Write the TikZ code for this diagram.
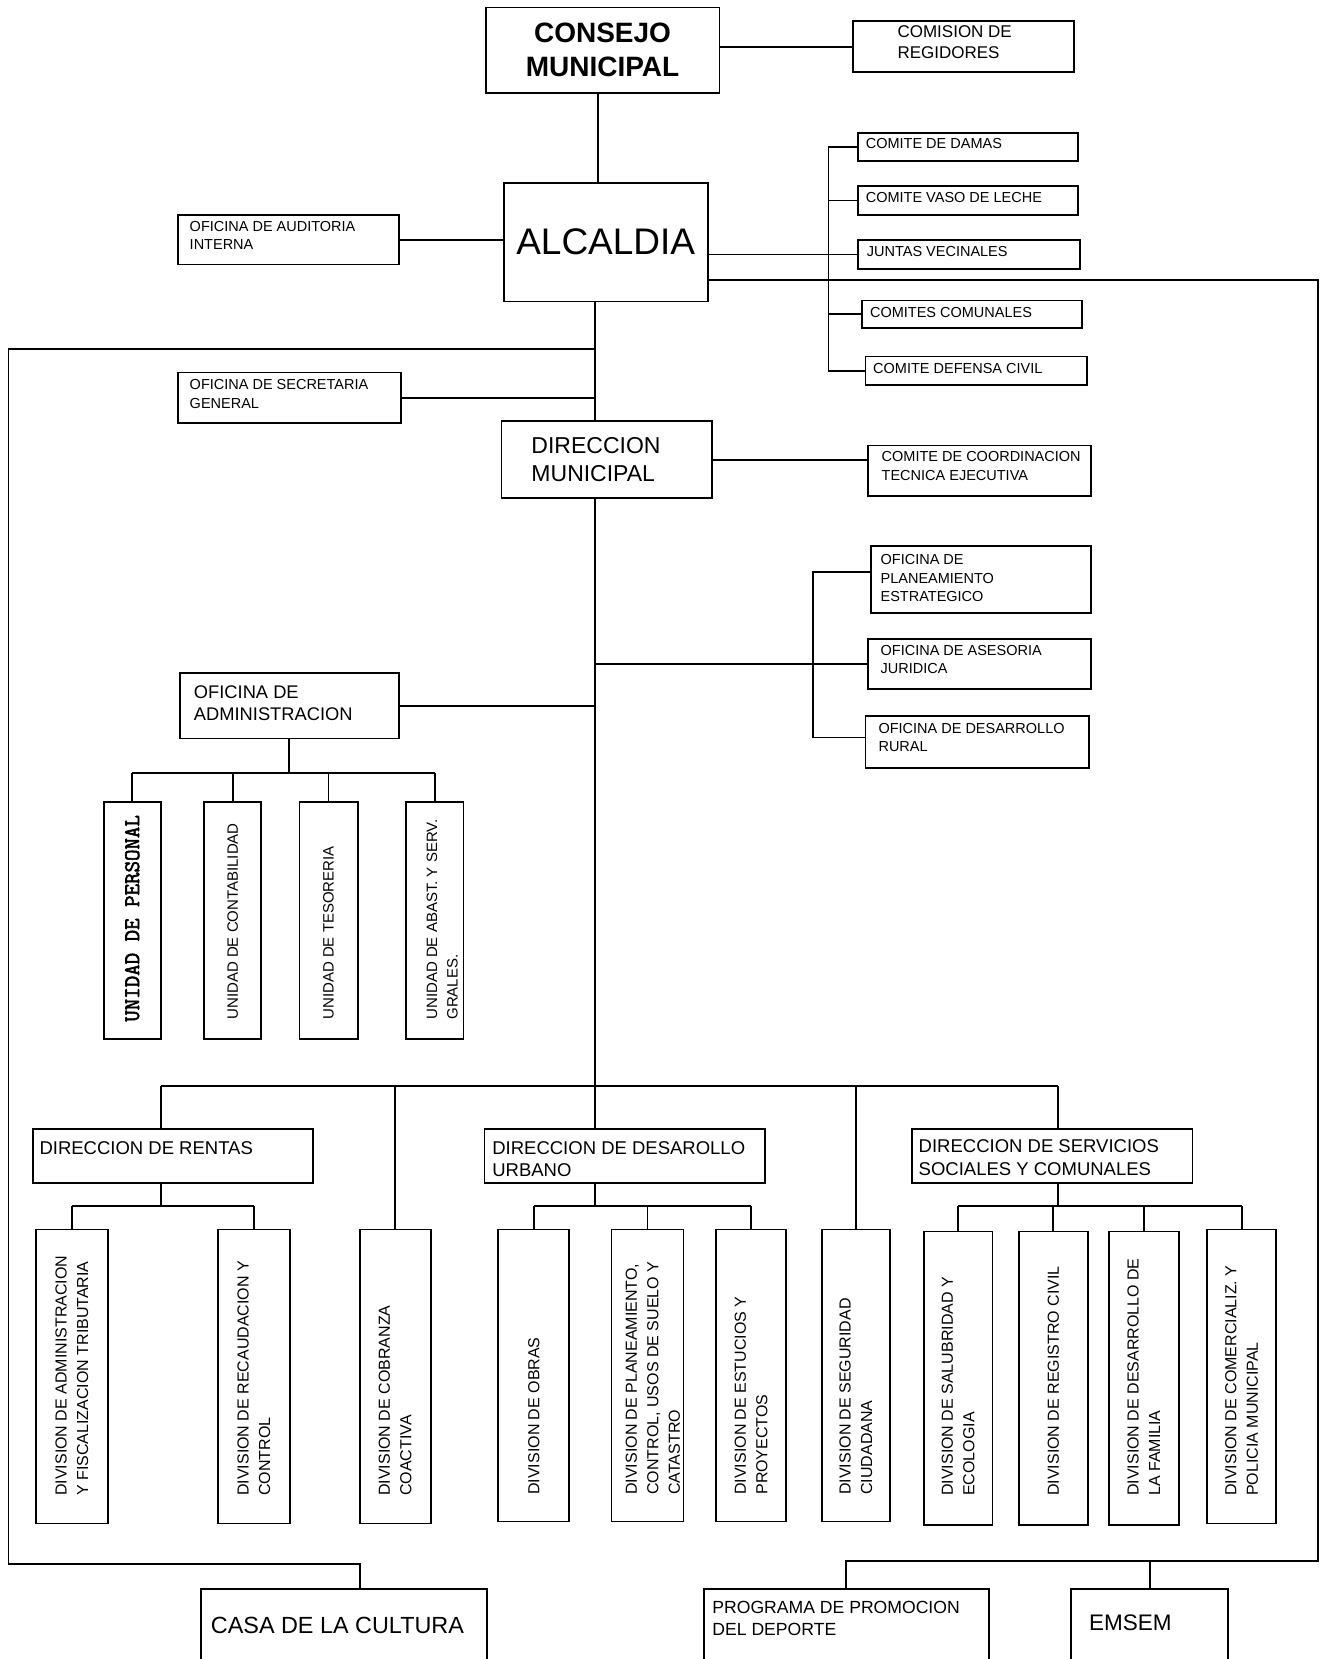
\documentclass[tikz,border=0pt]{standalone}
\usepackage{fontspec}
\setmainfont{Liberation Sans}
\newfontfamily\persfont{Latin Modern Mono}[FakeBold=2.5]
\def\pxu{1.0583pt}
\tikzset{
  orgbox/.style 2 args={draw, line width=1.8pt, inner sep=0pt,
    minimum width=#1*\pxu, minimum height=#2*\pxu},
  lbl/.style={inner sep=0pt, anchor=west, align=left},
  vlbl/.style={inner sep=0pt, rotate=90, anchor=west, align=left},
  link/.style={line width=1.9pt},
  fsm/.style={font=\fontsize{14.5}{18.5}\selectfont},
  fcom/.style={font=\fontsize{17}{21}\selectfont},
  fdir/.style={font=\fontsize{18.5}{22.5}\selectfont},
  fmun/.style={font=\fontsize{23}{28.5}\selectfont},
  fdiv/.style={font=\fontsize{16}{21.5}\selectfont},
  funit/.style={font=\fontsize{15}{20.5}\selectfont},
  fmono/.style={font=\persfont\fontsize{22.3}{24}\selectfont}
}
\begin{document}
\begin{tikzpicture}[x=1.0583pt, y=-1.0583pt]
\useasboundingbox (0,0) rectangle (1253,1568);

% council and mayor
\node[orgbox={221}{81}, align=center, font=\bfseries\fontsize{28}{34}\selectfont] (consejo) at (569.5,47.5) {CONSEJO\\MUNICIPAL};
\node[orgbox={209}{48}] (comision) at (910.5,44) {};
\node[lbl, fcom] (comisionT) at ([xshift=43*\pxu, yshift=4*\pxu]comision.west) {COMISION DE\\REGIDORES};
\node[orgbox={193}{112}, font=\fontsize{37}{40}\selectfont] (alcaldia) at (572.5,229) {\raisebox{2pt}{ALCALDIA}};
\node[orgbox={209}{47}] (auditoria) at (272.5,226.5) {};
\node[lbl, fsm] (auditoriaT) at ([xshift=12*\pxu, yshift=4*\pxu]auditoria.west) {OFICINA DE AUDITORIA\\INTERNA};

% committees
\node[orgbox={208}{26}] (damas) at (915,139) {};
\node[lbl, fsm] (damasT) at ([xshift=8*\pxu, yshift=3*\pxu]damas.west) {COMITE DE DAMAS};
\node[orgbox={208}{27}] (vaso) at (915,189.5) {};
\node[lbl, fsm] (vasoT) at ([xshift=8*\pxu, yshift=3*\pxu]vaso.west) {COMITE VASO DE LECHE};
\node[orgbox={210}{27}] (juntas) at (916,240.5) {};
\node[lbl, fsm] (juntasT) at ([xshift=9*\pxu, yshift=3*\pxu]juntas.west) {JUNTAS VECINALES};
\node[orgbox={208}{26}] (comunales) at (919,297) {};
\node[lbl, fsm] (comunalesT) at ([xshift=8*\pxu, yshift=2*\pxu]comunales.west) {COMITES COMUNALES};
\node[orgbox={209}{27}] (defensa) at (922.5,350.5) {};
\node[lbl, fsm] (defensaT) at ([xshift=8*\pxu, yshift=2*\pxu]defensa.west) {COMITE DEFENSA CIVIL};

% municipal direction
\node[orgbox={211}{48}] (secretaria) at (273.5,376) {};
\node[lbl, fsm] (secretariaT) at ([xshift=12*\pxu, yshift=3.5*\pxu]secretaria.west) {OFICINA DE SECRETARIA\\GENERAL};
\node[orgbox={199}{73}] (dirmun) at (573.5,434.5) {};
\node[lbl, fmun] (dirmunT) at ([xshift=29*\pxu]dirmun.west) {DIRECCION\\MUNICIPAL};
\node[orgbox={211}{48}] (coordinacion) at (925.5,445) {};
\node[lbl, fsm] (coordinacionT) at ([xshift=14*\pxu, yshift=4.5*\pxu]coordinacion.west) {COMITE DE COORDINACION\\TECNICA EJECUTIVA};

% advisory offices
\node[orgbox={208}{63}] (planeamiento) at (927,547.5) {};
\node[lbl, fsm] (planeamientoT) at ([xshift=10*\pxu, yshift=1*\pxu]planeamiento.west) {OFICINA DE\\PLANEAMIENTO\\ESTRATEGICO};
\node[orgbox={211}{47}] (asesoria) at (925.5,627.5) {};
\node[lbl, fsm] (asesoriaT) at ([xshift=13*\pxu, yshift=4*\pxu]asesoria.west) {OFICINA DE ASESORIA\\JURIDICA};
\node[orgbox={211}{49}] (rural) at (923.5,701.5) {};
\node[lbl, fsm] (ruralT) at ([xshift=13*\pxu, yshift=4.5*\pxu]rural.west) {OFICINA DE DESARROLLO\\RURAL};

% administration and its units
\node[orgbox={207}{62}] (admin) at (273.5,667) {};
\node[lbl, font=\fontsize{18.3}{22}\selectfont] (adminT) at ([xshift=14*\pxu, yshift=2.5*\pxu]admin.west) {OFICINA DE\\ADMINISTRACION};
\node[orgbox={54}{224}] (personal) at (125,870) {};
\node[vlbl, fmono] (personalT) at ([yshift=17*\pxu]personal.south) {UNIDAD DE PERSONAL};
\node[orgbox={54}{224}] (contab) at (220,870) {};
\node[vlbl, funit] (contabT) at ([yshift=19*\pxu]contab.south) {UNIDAD DE CONTABILIDAD};
\node[orgbox={55}{224}] (tesoreria) at (310.5,870) {};
\node[vlbl, funit] (tesoreriaT) at ([yshift=19*\pxu]tesoreria.south) {UNIDAD DE TESORERIA};
\node[orgbox={54}{224}] (abast) at (411,870) {};
\node[vlbl, funit] (abastT) at ([xshift=7*\pxu, yshift=19*\pxu]abast.south) {UNIDAD DE ABAST. Y SERV.\\GRALES.};

% directions
\node[orgbox={265}{51}] (rentas) at (163.5,1092.5) {};
\node[lbl, fdir] (rentasT) at ([xshift=7*\pxu, yshift=7.5*\pxu]rentas.west) {DIRECCION DE RENTAS};
\node[orgbox={265}{51}] (ddu) at (590.5,1092.5) {};
\node[lbl, fdir] (dduT) at ([xshift=8*\pxu, yshift=-3*\pxu]ddu.west) {DIRECCION DE DESAROLLO\\URBANO};
\node[orgbox={265}{51}] (dssc) at (994.5,1092.5) {};
\node[lbl, fdir] (dsscT) at ([xshift=7*\pxu, yshift=-1.5*\pxu]dssc.west) {DIRECCION DE SERVICIOS\\SOCIALES Y COMUNALES};

% divisions
\node[orgbox={68}{278}] (admtrib) at (68,1301) {};
\node[vlbl, fdiv] (admtribT) at ([yshift=27*\pxu]admtrib.south) {DIVISION DE ADMINISTRACION\\Y FISCALIZACION TRIBUTARIA};
\node[orgbox={68}{278}] (recaud) at (240,1301) {};
\node[vlbl, fdiv] (recaudT) at ([yshift=27*\pxu]recaud.south) {DIVISION DE RECAUDACION Y\\CONTROL};
\node[orgbox={67}{278}] (cobranza) at (373.5,1301) {};
\node[vlbl, fdiv] (cobranzaT) at ([yshift=27*\pxu]cobranza.south) {DIVISION DE COBRANZA\\COACTIVA};
\node[orgbox={67}{276}] (obras) at (504.5,1300) {};
\node[vlbl, fdiv] (obrasT) at ([yshift=26*\pxu]obras.south) {DIVISION DE OBRAS};
\node[orgbox={68}{276}] (planctrl) at (612,1300) {};
\node[vlbl, fdiv] (planctrlT) at ([xshift=5*\pxu, yshift=26*\pxu]planctrl.south) {DIVISION DE PLANEAMIENTO,\\CONTROL, USOS DE SUELO Y\\CATASTRO};
\node[orgbox={66}{276}] (estudios) at (710,1300) {};
\node[vlbl, fdiv] (estudiosT) at ([yshift=26*\pxu]estudios.south) {DIVISION DE ESTUCIOS Y\\PROYECTOS};
\node[orgbox={64}{276}] (seguridad) at (809,1300) {};
\node[vlbl, fdiv] (seguridadT) at ([yshift=26*\pxu]seguridad.south) {DIVISION DE SEGURIDAD\\CIUDADANA};
\node[orgbox={65}{277}] (salubridad) at (905.5,1302.5) {};
\node[vlbl, fdiv] (salubridadT) at ([yshift=28*\pxu]salubridad.south) {DIVISION DE SALUBRIDAD Y\\ECOLOGIA};
\node[orgbox={65}{277}] (registro) at (995.5,1302.5) {};
\node[vlbl, fdiv] (registroT) at ([yshift=28*\pxu]registro.south) {DIVISION DE REGISTRO CIVIL};
\node[orgbox={66}{277}] (familia) at (1081,1302.5) {};
\node[vlbl, fdiv] (familiaT) at ([yshift=28*\pxu]familia.south) {DIVISION DE DESARROLLO DE\\LA FAMILIA};
\node[orgbox={65}{278}] (comercializ) at (1173.5,1301) {};
\node[vlbl, fdiv] (comercializT) at ([yshift=27*\pxu]comercializ.south) {DIVISION DE COMERCIALIZ. Y\\POLICIA MUNICIPAL};

% bottom row
\node[orgbox={270}{68}] (casa) at (325,1536) {};
\node[lbl, font=\fontsize{23.4}{28}\selectfont] (casaT) at ([xshift=10*\pxu]casa.west) {CASA DE LA CULTURA};
\node[orgbox={270}{70}] (programa) at (800,1537) {};
\node[lbl, font=\fontsize{17.6}{22}\selectfont] (programaT) at ([xshift=9*\pxu, yshift=7.5*\pxu]programa.west) {PROGRAMA DE PROMOCION\\DEL DEPORTE};
\node[orgbox={149}{70}] (emsem) at (1086.5,1537) {};
\node[lbl, font=\fontsize{22.5}{26}\selectfont] (emsemT) at ([xshift=18*\pxu, yshift=3*\pxu]emsem.west) {EMSEM};

% helper points for the lines
\coordinate (spine) at (562,0);
\coordinate (cs) at (783,0);
\coordinate (rtop) at (1246,265);
\coordinate (rbot) at (1246,1475);
\coordinate (ltop) at (8,330);
\coordinate (lbot) at (8,1478);
\coordinate (casaup) at (340,1478);
\coordinate (o1) at (768,541);
\coordinate (o2) at (768,697);
\coordinate (ubus) at (0,731);
\coordinate (bl) at (152,1026);
\coordinate (br) at (1000,1026);
\coordinate (sb) at (0,1140);

% upper lines
\draw[link] (consejo.east |- comision.west) -- (comision.west);
\draw[link] ([xshift=-4*\pxu]consejo.south) -- ([xshift=-4*\pxu]consejo.south |- alcaldia.north);
\draw[link] (auditoria.east) -- (auditoria.east -| alcaldia.west);
\draw[link] (alcaldia.east |- juntas.west) -- (juntas.west);
\draw[link] (damas.west -| cs) -- (defensa.west -| cs);
\draw[link] (damas.west -| cs) -- (damas.west);
\draw[link] (vaso.west -| cs) -- (vaso.west);
\draw[link] (comunales.west -| cs) -- (comunales.west);
\draw[link] (defensa.west -| cs) -- (defensa.west);

% outer loops
\draw[link] (rtop -| alcaldia.east) -- (rtop) -- (rbot) -| (programa.north);
\draw[link] (emsem.north |- rbot) -- (emsem.north);
\draw[link] (ltop -| spine) -- (ltop) -- (lbot) -- (casaup) -- (casaup |- casa.north);

% main spine
\draw[link] (alcaldia.south -| spine) -- (dirmun.north -| spine);
\draw[link] (secretaria.east) -- (secretaria.east -| spine);
\draw[link] (dirmun.east) -- (dirmun.east -| coordinacion.west);
\draw[link] (dirmun.south -| spine) -- (ddu.north -| spine);
\draw[link] (asesoria.west -| spine) -- (asesoria.west);
\draw[link] (planeamiento.west |- o1) -- (o1) -- (o2) -- (o2 -| rural.west);
\draw[link] (admin.east) -- (admin.east -| spine);

% administration units
\draw[link] (admin.south) -- (admin.south |- ubus);
\draw[link] (personal.north |- ubus) -- (abast.north |- ubus);
\draw[link] (personal.north |- ubus) -- (personal.north);
\draw[link] (contab.north |- ubus) -- (contab.north);
\draw[link] (tesoreria.north |- ubus) -- (tesoreria.north);
\draw[link] (abast.north |- ubus) -- (abast.north);

% main bus
\draw[link] (bl) -- (br);
\draw[link] (bl) -- (bl |- rentas.north);
\draw[link] (br) -- (br |- dssc.north);
\draw[link] (cobranza.north |- bl) -- (cobranza.north);
\draw[link] (seguridad.north |- bl) -- (seguridad.north);

% sub buses
\draw[link] (bl |- rentas.south) -- (bl |- sb);
\draw[link] (admtrib.north |- sb) -- (recaud.north |- sb);
\draw[link] (admtrib.north |- sb) -- (admtrib.north);
\draw[link] (recaud.north |- sb) -- (recaud.north);
\draw[link] (spine |- ddu.south) -- (spine |- sb);
\draw[link] (obras.north |- sb) -- (estudios.north |- sb);
\draw[link] (obras.north |- sb) -- (obras.north);
\draw[link] (planctrl.north |- sb) -- (planctrl.north);
\draw[link] (estudios.north |- sb) -- (estudios.north);
\draw[link] (br |- dssc.south) -- (br |- sb);
\draw[link] (salubridad.north |- sb) -- (comercializ.north |- sb);
\draw[link] (salubridad.north |- sb) -- (salubridad.north);
\draw[link] (registro.north |- sb) -- (registro.north);
\draw[link] (familia.north |- sb) -- (familia.north);
\draw[link] (comercializ.north |- sb) -- (comercializ.north);
\end{tikzpicture}
\end{document}
